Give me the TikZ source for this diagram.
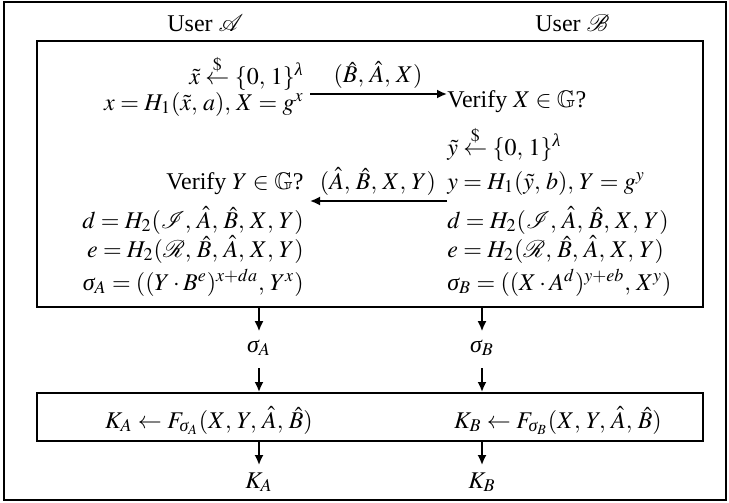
\documentclass[tikz,border=0pt,12pt]{standalone}
\usepackage{amsmath,amssymb}
\usepackage{mathptmx}
\usepackage[no-math]{fontspec}
\setmainfont{Liberation Serif}
\usetikzlibrary{arrows.meta, positioning}
\thinmuskip=4mu
\newcommand{\gsig}{\textit{σ}}
\newcommand{\glam}{\textit{λ}}

\begin{document}
\begin{tikzpicture}[x=0.5pt, y=-0.5pt,
        box/.style={draw, line width=1pt, inner sep=0pt},
        txt/.style={inner sep=0pt},
        west/.style={txt, anchor=base west},
        east/.style={txt, anchor=base east},
        arrow/.style={-{Latex[length=5pt, width=4.5pt]}, line width=0.9pt}
    ]
        \useasboundingbox (0,0) rectangle (729,503);
        \node[box, minimum width=361pt, minimum height=249pt] (frame) at (365,251) {};
        \node[west] (userA) at (167,32) {User $\mathcal{A}$};
        \node[west] (userB) at (535,32) {User $\mathcal{B}$};

        \node[box, minimum width=333pt, minimum height=133pt] (proto) at (370,174) {};

        % left column, flush right
        \node[east] (pickx) at (304,84) {$\tilde{x} \stackrel{\$}{\leftarrow} \{0,1\}^{\glam}$};
        \node[east] (compx) at (304,110) {$x = H_1(\tilde{x}, a), X = g^{x}$};
        \node[east] (verY) at (304,189) {Verify $Y \in \mathbb{G}$?};
        \node[east] (dA) at (304,228) {$d = H_2(\mathcal{I}, \hat{A}, \hat{B}, X, Y)$};
        \node[east] (eA) at (304,257) {$e = H_2(\mathcal{R}, \hat{B}, \hat{A}, X, Y)$};
        \node[east] (sA) at (304,290) {$\gsig_A = ((Y \cdot B^{e})^{x+da}, Y^{x})$};

        % right column, flush left
        \node[west] (verX) at (447,107) {Verify $X \in \mathbb{G}$?};
        \node[west] (picky) at (447,155) {$\tilde{y} \stackrel{\$}{\leftarrow} \{0,1\}^{\glam}$};
        \node[west] (compy) at (447,189) {$y = H_1(\tilde{y}, b), Y = g^{y}$};
        \node[west] (dB) at (447,228) {$d = H_2(\mathcal{I}, \hat{A}, \hat{B}, X, Y)$};
        \node[west] (eB) at (447,257) {$e = H_2(\mathcal{R}, \hat{B}, \hat{A}, X, Y)$};
        \node[west] (sB) at (447,290) {$\gsig_B = ((X \cdot A^{d})^{y+eb}, X^{y})$};

        % messages
        \coordinate (sendA) at (0,94);
        \coordinate (sendB) at (0,201);
        \node[txt, anchor=base] (msgA) at (378,83) {$(\hat{B}, \hat{A}, X)$};
        \node[txt, anchor=base] (msgB) at (378,189) {$(\hat{A}, \hat{B}, X, Y)$};
        \draw[arrow] ([xshift=3pt]sendA -| compx.east) -- (sendA -| verX.west);
        \draw[arrow] (sendB -| compy.west) -- ([xshift=3pt]sendB -| verY.east);

        % session keys
        \node[txt, anchor=base] (sigA) at (259,352) {$\gsig_A$};
        \node[txt, anchor=base] (sigB) at (482,352) {$\gsig_B$};
        \node[box, minimum width=333pt, minimum height=24pt] (keys) at (370,417) {};
        \node[txt, anchor=base] (keyA) at (209,428) {$K_A \leftarrow F_{\gsig_A}(X, Y, \hat{A}, \hat{B})$};
        \node[txt, anchor=base] (keyB) at (558,428) {$K_B \leftarrow F_{\gsig_B}(X, Y, \hat{A}, \hat{B})$};
        \node[txt, anchor=base] (outA) at (259,488) {$K_A$};
        \node[txt, anchor=base] (outB) at (482,488) {$K_B$};

        \draw[arrow] (sigA |- proto.south) -- ([yshift=4pt]sigA.north);
        \draw[arrow] (sigB |- proto.south) -- ([yshift=4pt]sigB.north);
        \draw[arrow] ([yshift=-6pt]sigA.south) -- (sigA |- keys.north);
        \draw[arrow] ([yshift=-6pt]sigB.south) -- (sigB |- keys.north);
        \draw[arrow] (outA |- keys.south) -- ([yshift=3.5pt]outA.north);
        \draw[arrow] (outB |- keys.south) -- ([yshift=3.5pt]outB.north);
    \end{tikzpicture}
\end{document}
